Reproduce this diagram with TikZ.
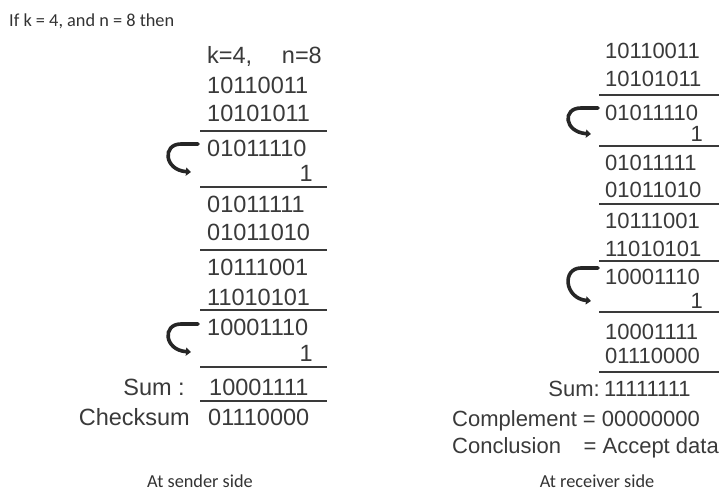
\documentclass[tikz,border=0pt]{standalone}
\usepackage{fontspec}
\setmainfont{Liberation Sans}
\newfontfamily\smallfam{Carlito}
\usetikzlibrary{arrows.meta}
\definecolor{txtgray}{HTML}{3A3A3A}
\definecolor{rulegray}{HTML}{3A3A3A}
\definecolor{capgray}{HTML}{333333}
\tikzset{
  num/.style={font=\fontsize{22}{24}\selectfont, inner sep=0pt, text=txtgray},
  snum/.style={font=\fontsize{23.5}{25}\selectfont, inner sep=0pt, text=txtgray},
  captext/.style={font=\smallfam\fontsize{18.3}{20}\selectfont, inner sep=0pt, text=capgray},
  rule/.style={line width=2.4pt, draw=rulegray},
  hookarrow/.style={line width=3.6pt, draw=black!85, line cap=round, -{Triangle[length=5pt,width=8pt]}}
}
\begin{document}
\begin{tikzpicture}[x=1pt,y=-1pt]
\useasboundingbox[fill=white] (0,0) rectangle (720,491);
% title
\node[captext, anchor=base west] (title) at (9,26) {If k = 4, and n = 8 then};
% ---------- sender side ----------
\node[snum, anchor=base west] (k) at (207,63) {k=4,};
\node[snum, anchor=base east] (n) at (322,63) {n=8};
\node[snum, anchor=base west] (s1) at (207,93) {10110011};
\node[snum, anchor=base west] (s2) at (207,121) {10101011};
\coordinate (sl1a) at (200,131); \coordinate (sl1b) at (327,131);
\draw[rule] (sl1a) -- (sl1b);
\node[snum, anchor=base west] (s3) at (207,156) {01011110};
\node[snum, anchor=base east] (s4) at (313,181) {1};
\coordinate (sl2a) at (200,187); \coordinate (sl2b) at (327,187);
\draw[rule] (sl2a) -- (sl2b);
\node[snum, anchor=base west] (s5) at (207,212) {01011111};
\node[snum, anchor=base west] (s6) at (207,240) {01011010};
\coordinate (sl3a) at (200,250); \coordinate (sl3b) at (327,250);
\draw[rule] (sl3a) -- (sl3b);
\node[snum, anchor=base west] (s7) at (207,275) {10111001};
\node[snum, anchor=base west] (s8) at (207,305) {11010101};
\coordinate (sl4a) at (200,310); \coordinate (sl4b) at (327,310);
\draw[rule] (sl4a) -- (sl4b);
\node[snum, anchor=base west] (s9) at (207,335) {10001110};
\node[snum, anchor=base east] (s10) at (313,361) {1};
\coordinate (sl5a) at (200,367); \coordinate (sl5b) at (327,367);
\draw[rule] (sl5a) -- (sl5b);
\node[snum, anchor=base east] (sumlab) at (185,395) {Sum :};
\node[snum, anchor=base west] (s11) at (209,395) {10001111};
\coordinate (sl6a) at (200,401); \coordinate (sl6b) at (327,401);
\draw[rule] (sl6a) -- (sl6b);
\node[snum, anchor=base east] (cslab) at (190,425) {Checksum};
\node[snum, anchor=base west] (s12) at (208,425) {01110000};
\node[captext, anchor=base] (sendcap) at (200,487) {At sender side};
% sender hooks
\coordinate (h1s) at (198,144); \coordinate (h1e) at (191,172);
\draw[hookarrow] (h1s) -- (181,144) .. controls (162,144) and (164,170) .. (h1e);
\coordinate (h2s) at (198,324); \coordinate (h2e) at (191,352);
\draw[hookarrow] (h2s) -- (181,324) .. controls (162,324) and (164,350) .. (h2e);
% ---------- receiver side ----------
\node[num, anchor=base west] (r1) at (605,58) {10110011};
\node[num, anchor=base west] (r2) at (605,86) {10101011};
\coordinate (rl1a) at (599,95); \coordinate (rl1b) at (719,95);
\draw[rule] (rl1a) -- (rl1b);
\node[num, anchor=base west] (r3) at (605,120) {01011110};
\node[num, anchor=base east] (r4) at (703,141) {1};
\coordinate (rl2a) at (599,146); \coordinate (rl2b) at (719,146);
\draw[rule] (rl2a) -- (rl2b);
\node[num, anchor=base west] (r5) at (605,170) {01011111};
\node[num, anchor=base west] (r6) at (605,197) {01011010};
\coordinate (rl3a) at (599,204); \coordinate (rl3b) at (719,204);
\draw[rule] (rl3a) -- (rl3b);
\node[num, anchor=base west] (r7) at (605,228) {10111001};
\node[num, anchor=base west] (r8) at (605,256) {11010101};
\coordinate (rl4a) at (599,261); \coordinate (rl4b) at (719,261);
\draw[rule] (rl4a) -- (rl4b);
\node[num, anchor=base west] (r9) at (605,284) {10001110};
\node[num, anchor=base east] (r10) at (703,308) {1};
\coordinate (rl5a) at (599,312); \coordinate (rl5b) at (719,312);
\draw[rule] (rl5a) -- (rl5b);
\node[num, anchor=base west] (r11) at (605,339) {10001111};
\node[num, anchor=base west] (r12) at (605,363) {01110000};
\coordinate (rl6a) at (599,372); \coordinate (rl6b) at (719,372);
\draw[rule] (rl6a) -- (rl6b);
\node[num, anchor=base east] (rsumlab) at (600,396) {Sum:};
\node[num, anchor=base west] (r13) at (604,396) {11111111};
\node[num, anchor=base west] (comp) at (452,426) {Complement = 00000000};
\node[num, anchor=base west] (concl) at (452,453) {Conclusion};
\node[num, anchor=base east] (accept) at (719,453) {= Accept data};
\node[captext, anchor=base] (recvcap) at (597,487) {At receiver side};
% receiver hooks
\coordinate (h3s) at (598,108); \coordinate (h3e) at (591,134);
\draw[hookarrow] (h3s) -- (581,108) .. controls (562,108) and (564,132) .. (h3e);
\coordinate (h4s) at (598,268); \coordinate (h4e) at (591,301);
\draw[hookarrow] (h4s) -- (581,268) .. controls (562,268) and (564,298) .. (h4e);
\end{tikzpicture}
\end{document}
